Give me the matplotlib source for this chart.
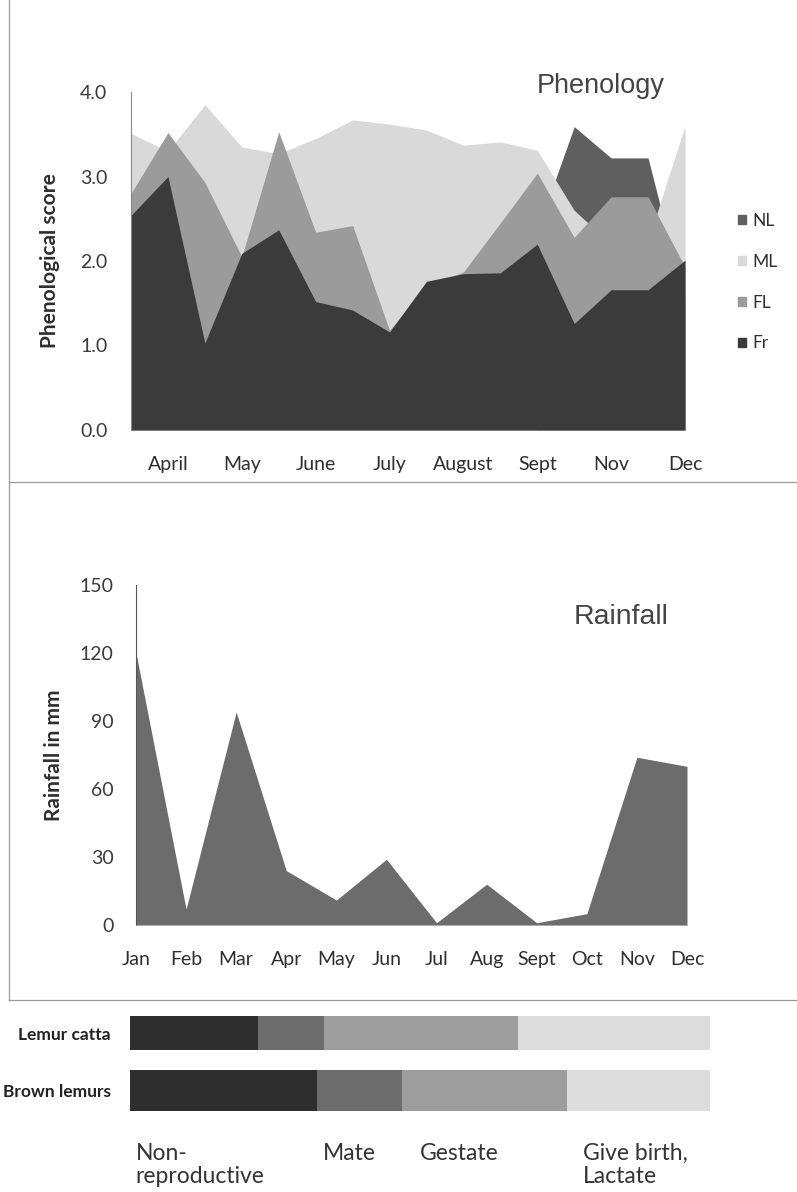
import numpy as np
import matplotlib.pyplot as plt
from matplotlib.patches import Patch
from matplotlib.lines import Line2D
from matplotlib.transforms import blended_transform_factory

# datos de fenologia (16 muestreos, etiqueta cada dos)
feno_etiquetas = ['', 'April', '', 'May', '', 'June', '', 'July', '', 'August', '', 'Sept', '', 'Nov', '', 'Dec']
nl = [np.nan] * 11 + [2.36, 3.59, 3.22, 3.22, 1.50]
ml = [3.51, 3.30, 3.85, 3.35, 3.27, 3.45, 3.67, 3.62, 3.55, 3.37, 3.41, 3.31, 2.60, 2.20, 2.24, 3.60]
fl = [2.80, 3.52, 2.93, 2.05, 3.53, 2.34, 2.42, 1.18, 1.70, 1.87, 2.45, 3.04, 2.28, 2.76, 2.76, 1.93]
fr = [2.54, 3.00, 1.03, 2.09, 2.37, 1.52, 1.42, 1.16, 1.76, 1.85, 1.86, 2.20, 1.26, 1.66, 1.66, 2.01]
series_nombres = ['NL', 'ML', 'FL', 'Fr']

# lluvia mensual (mm)
meses = ['Jan', 'Feb', 'Mar', 'Apr', 'May', 'Jun', 'Jul', 'Aug', 'Sept', 'Oct', 'Nov', 'Dec']
lluvia = [120, 7, 94, 24, 11, 29, 1, 18, 1, 5, 74, 70]

# etapas reproductivas (meses)
especies = ['Lemur catta', 'Brown lemurs']
etapas = ['Non-\nreproductive', 'Mate', 'Gestate', 'Give birth,\nLactate']
catta = [2.65, 1.37, 4.00, 3.98]
brown = [3.87, 1.76, 3.41, 2.96]

colores_feno = ['#5f5f5f', '#d9d9d9', '#9b9b9b', '#3b3b3b']
colores_etapas = ['#2e2e2e', '#6c6c6c', '#9d9d9d', '#dcdcdc']

fuente = 'Lato'
W, H = 797, 1192
fig = plt.figure(figsize=(W / 100, H / 100), dpi=100)

def caja(x0, y0, x1, y1):
    # convierte pixeles (desde arriba) a fraccion de figura
    return [x0 / W, 1 - y1 / H, (x1 - x0) / W, (y1 - y0) / H]

# ---- fenologia ----
ax1 = fig.add_axes(caja(131, 92, 685, 430))
x = np.arange(len(fr))
for serie, color, nombre in zip([nl, ml, fl, fr], colores_feno, series_nombres):
    ax1.fill_between(x, 0, serie, color=color, lw=0, label=nombre)
ax1.set_xlim(0, len(fr) - 1)
ax1.set_ylim(0, 4)
ax1.set_yticks(np.arange(0, 4.1, 1))
ax1.set_yticklabels(['%.1f' % v for v in np.arange(0, 4.1, 1)], family=fuente, fontsize=14, color='#3a3a3a')
ax1.set_xticks(x)
ax1.set_xticklabels(feno_etiquetas, family=fuente, fontsize=14, color='#2e2e2e')
ax1.tick_params(axis='y', length=0, pad=17)
ax1.tick_params(axis='x', length=0, pad=19)
for s in ['top', 'right', 'bottom']:
    ax1.spines[s].set_visible(False)
ax1.spines['left'].set_color('#888888')
ax1.spines['left'].set_linewidth(0.8)
ax1.set_ylabel('Phenological score', family=fuente, fontweight='bold', fontsize=15, color='#2e2e2e')
ax1.yaxis.set_label_coords(-0.128, 0.5)
fig.text(601 / W, 1 - 86 / H, 'Phenology', family='Liberation Sans', fontsize=19.5, color='#444444',
         ha='center', va='center')
manejadores = [Patch(color=c) for c in colores_feno]
fig.legend(manejadores, series_nombres, loc='upper left', bbox_to_anchor=(738 / W, 1 - 213 / H),
           frameon=False, prop={'family': fuente, 'size': 12.5}, handlelength=0.45, handleheight=0.45,
           handletextpad=0.4, labelspacing=1.43, borderpad=0, borderaxespad=0, labelcolor='#2e2e2e')

# ---- lluvia ----
ax2 = fig.add_axes(caja(136, 585, 687, 925))
xm = np.arange(len(meses))
ax2.fill_between(xm, 0, lluvia, color='#6c6c6c', lw=0)
ax2.set_xlim(0, len(meses) - 1)
ax2.set_ylim(0, 150)
ax2.set_yticks(np.arange(0, 151, 30))
ax2.set_yticklabels([str(v) for v in range(0, 151, 30)], family=fuente, fontsize=14, color='#3a3a3a')
ax2.set_xticks(xm)
ax2.set_xticklabels(meses, family=fuente, fontsize=14, color='#2e2e2e')
ax2.tick_params(axis='y', length=0, pad=16)
ax2.tick_params(axis='x', length=0, pad=19)
for s in ['top', 'right']:
    ax2.spines[s].set_visible(False)
ax2.spines['left'].set_color('#555555')
ax2.spines['left'].set_linewidth(0.8)
ax2.spines['bottom'].set_color('#aaaaaa')
ax2.spines['bottom'].set_linewidth(0.6)
ax2.set_ylabel('Rainfall in mm', family=fuente, fontweight='bold', fontsize=15, color='#2e2e2e')
ax2.yaxis.set_label_coords(-0.131, 0.5)
fig.text(621 / W, 1 - 617 / H, 'Rainfall', family='Liberation Sans', fontsize=20.5, color='#444444',
         ha='center', va='center')

# ---- barras de etapas ----
ax3 = fig.add_axes(caja(130, 1000, 710, 1130))
alturas = [0.6, 0.72]
for fila, (valores, alto) in enumerate(zip([catta, brown], alturas)):
    ax3.barh(fila, valores, left=np.cumsum([0] + valores[:-1]), height=alto, color=colores_etapas, lw=0)
ax3.set_xlim(0, 12)
ax3.set_ylim(1.70, -0.58)
ax3.set_yticks([0, 1])
ax3.set_yticklabels(especies, family=fuente, fontweight='bold', fontsize=12.5, color='#222222')
ax3.tick_params(axis='y', length=0, pad=14)
ax3.set_xticks([])
for s in ax3.spines.values():
    s.set_visible(False)
trans = blended_transform_factory(ax3.transData, fig.transFigure)
inicios = np.cumsum([0] + brown[:-1])
desplaz = [0.12, 0.12, 0.37, 0.33]
for etapa, x0, d in zip(etapas, inicios, desplaz):
    fig.text(x0 + d, 1 - 1143 / H, etapa, transform=trans, family=fuente, fontsize=16.5, color='#333333',
             ha='left', va='top', linespacing=1.1)

# marco del grafico original
gris = '#9a9a9a'
fig.add_artist(Line2D([9 / W, 9 / W], [1, 1 - 1000 / H], color=gris, lw=0.9))
fig.add_artist(Line2D([9 / W, 1], [1 - 482 / H, 1 - 482 / H], color=gris, lw=0.9))
fig.add_artist(Line2D([9 / W, 1], [1 - 1000 / H, 1 - 1000 / H], color=gris, lw=0.9))

fig.savefig('out.png', dpi=100)
